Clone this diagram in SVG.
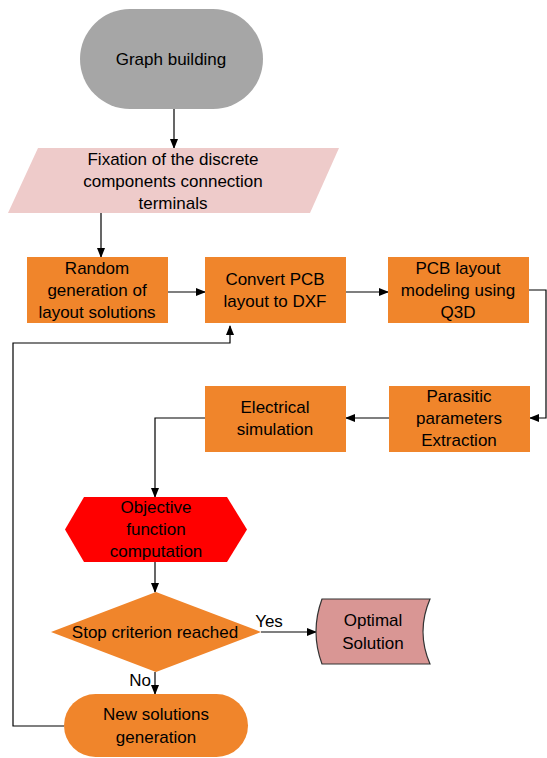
<svg xmlns="http://www.w3.org/2000/svg" width="547" height="758" viewBox="0 0 547 758">
<defs>
<marker id="ah" markerWidth="10" markerHeight="8" refX="9" refY="4" orient="auto" markerUnits="userSpaceOnUse">
<path d="M0,0 L10,4 L0,8 Z" fill="#000"/>
</marker>
<style>
text{font-family:"Liberation Sans",Arial,sans-serif;font-size:17px;fill:#000;text-anchor:middle}
.c{fill:none;stroke:#000;stroke-width:1.2}
.o{fill:#F0852B}
</style>
</defs>
<rect width="547" height="758" fill="#fff"/>
<g id="connectors">
<line class="c" x1="174" y1="109" x2="174" y2="148" marker-end="url(#ah)"/>
<line class="c" x1="101" y1="213" x2="101" y2="257" marker-end="url(#ah)"/>
<line class="c" x1="168" y1="292" x2="205" y2="292" marker-end="url(#ah)"/>
<line class="c" x1="346" y1="292" x2="388" y2="292" marker-end="url(#ah)"/>
<polyline class="c" points="529,290 546,290 546,418 530,418" marker-end="url(#ah)"/>
<line class="c" x1="389" y1="418" x2="346" y2="418" marker-end="url(#ah)"/>
<polyline class="c" points="205,418 155,418 155,497" marker-end="url(#ah)"/>
<line class="c" x1="155" y1="562" x2="155" y2="592" marker-end="url(#ah)"/>
<line class="c" x1="261" y1="632" x2="316" y2="632" marker-end="url(#ah)"/>
<line class="c" x1="155" y1="672" x2="155" y2="694" marker-end="url(#ah)"/>
<polyline class="c" points="64,726 13,726 13,343 230,343 230,326" marker-end="url(#ah)"/>
<text x="269" y="627">Yes</text>
<text x="140" y="686">No</text>
</g>
<g id="graph-building">
<rect x="80" y="9" width="183" height="100" rx="50" ry="50" fill="#A6A6A6"/>
<text x="171" y="65">Graph building</text>
</g>
<g id="fixation">
<polygon points="38,148 339,148 310,213 8,213" fill="#EECBCA"/>
<text x="173" y="165">Fixation of the discrete</text>
<text x="173" y="187">components connection</text>
<text x="173" y="209">terminals</text>
</g>
<g id="random">
<rect class="o" x="27" y="257" width="141" height="66"/>
<text x="97" y="274">Random</text>
<text x="97" y="296">generation of</text>
<text x="97" y="318">layout solutions</text>
</g>
<g id="convert">
<rect class="o" x="205" y="257" width="141" height="66"/>
<text x="275" y="285">Convert PCB</text>
<text x="275" y="307">layout to DXF</text>
</g>
<g id="pcb-modeling">
<rect class="o" x="388" y="257" width="141" height="66"/>
<text x="458" y="274">PCB layout</text>
<text x="458" y="296">modeling using</text>
<text x="458" y="318">Q3D</text>
</g>
<g id="parasitic">
<rect class="o" x="389" y="386" width="141" height="66"/>
<text x="459" y="402">Parasitic</text>
<text x="459" y="424">parameters</text>
<text x="459" y="446">Extraction</text>
</g>
<g id="electrical">
<rect class="o" x="205" y="386" width="141" height="66"/>
<text x="275" y="413">Electrical</text>
<text x="275" y="435">simulation</text>
</g>
<g id="objective">
<polygon points="84,497 227,497 247,529.5 227,562 84,562 65,529.5" fill="#FF0000"/>
<text x="156" y="513">Objective</text>
<text x="156" y="535">function</text>
<text x="156" y="557">computation</text>
</g>
<g id="stop">
<polygon points="156,592 261,632 156,672 51,632" class="o"/>
<text x="155" y="638">Stop criterion reached</text>
</g>
<g id="optimal">
<path d="M322,599 L430,599 Q416,631.5 430,664 L322,664 Q310,631.5 322,599 Z" fill="#D99694" stroke="#333" stroke-width="1.2"/>
<text x="373" y="626">Optimal</text>
<text x="373" y="649">Solution</text>
</g>
<g id="new-solutions">
<rect class="o" x="64" y="694" width="184" height="63" rx="31.5" ry="31.5"/>
<text x="156" y="720">New solutions</text>
<text x="156" y="743">generation</text>
</g>
</svg>
